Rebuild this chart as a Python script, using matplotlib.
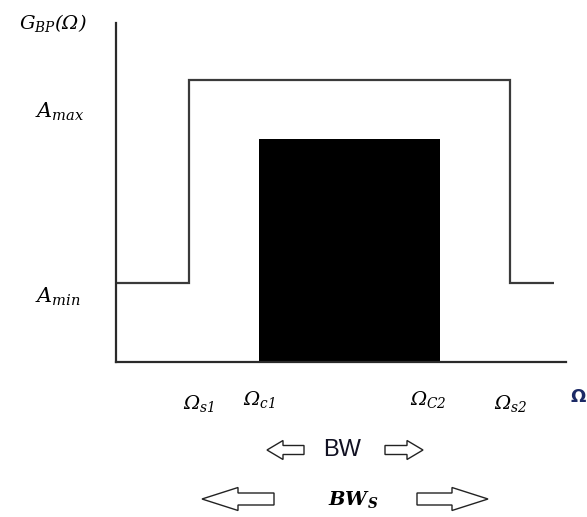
import matplotlib
matplotlib.use("Agg")
import matplotlib.pyplot as plt
from matplotlib.patches import FancyArrow

# all math labels in italic serif (greek capitals too)
plt.rcParams['mathtext.fontset'] = 'custom'
plt.rcParams['mathtext.rm'] = 'DejaVu Serif:italic'
plt.rcParams['mathtext.it'] = 'DejaVu Serif:italic'
plt.rcParams['mathtext.bf'] = 'DejaVu Serif:italic:bold'

# frequency axis (arbitrary units) and gain levels
omega_edges = [0.0, 1.62, 8.76, 9.73]   # 0, Omega_s1, Omega_s2, end of spec line
gain_levels = [0.233, 0.832, 0.233]     # A_min, A_max, A_min
omega_c1 = 3.18
omega_c2 = 7.2
passband_gain = 0.658

freq_labels = [r'$\Omega_{s1}$', r'$\Omega_{c1}$', r'$\Omega_{C2}$', r'$\Omega_{s2}$']

W, H = 587, 517
fig = plt.figure(figsize=(W / 100, H / 100), dpi=100)

# main plot area
ax = fig.add_axes([116 / W, (H - 362) / H, 450 / W, 339 / H])
ax.set_xlim(0, 10)
ax.set_ylim(0, 1)
ax.stairs(gain_levels, omega_edges, baseline=None, color='#3a3a3a', lw=1.6)
ax.bar(omega_c1, passband_gain, width=omega_c2 - omega_c1, align='edge',
       color='black', edgecolor='black', lw=0)
for s in ['top', 'right']:
    ax.spines[s].set_visible(False)
for s in ['left', 'bottom']:
    ax.spines[s].set_color('#2a2a2a')
    ax.spines[s].set_linewidth(1.6)
ax.set_xticks([])
ax.set_yticks([])

# overlay in pixel coordinates for the annotation text and arrows
ov = fig.add_axes([0, 0, 1, 1], zorder=-1)
ov.set_xlim(0, W)
ov.set_ylim(H, 0)
ov.axis('off')

ov.text(53, 23, r'$G_{BP}(\Omega)$', fontsize=14, ha='center', va='center')
ov.text(60, 112, r'$A_{max}$', fontsize=15, ha='center', va='center')
ov.text(58, 297, r'$A_{min}$', fontsize=15, ha='center', va='center')

label_px = [(199, 404), (259, 399), (428, 400), (511, 404)]
for lab, (px, py) in zip(freq_labels, label_px):
    ov.text(px, py, lab, fontsize=14, ha='center', va='center')
ov.text(578, 397, 'Ω', fontsize=13, fontweight='bold', color='#1c2a66',
        ha='center', va='center', family='DejaVu Sans')

ov.text(342, 450, 'BW', fontsize=17, color='#111122', ha='center', va='center',
        family='Liberation Sans')
ov.text(353, 499, r'$\mathbf{BW_S}$', fontsize=14, ha='center', va='center')

arrow_kw = dict(length_includes_head=True, facecolor='white', edgecolor='#222222',
                lw=1.0)
ov.add_patch(FancyArrow(304, 450, -37, 0, width=9, head_width=19, head_length=16, **arrow_kw))
ov.add_patch(FancyArrow(385, 450, 38, 0, width=9, head_width=19, head_length=16, **arrow_kw))
ov.add_patch(FancyArrow(274, 499, -72, 0, width=12, head_width=23, head_length=36, **arrow_kw))
ov.add_patch(FancyArrow(417, 499, 71, 0, width=12, head_width=23, head_length=36, **arrow_kw))

fig.savefig('out.png', dpi=100)
